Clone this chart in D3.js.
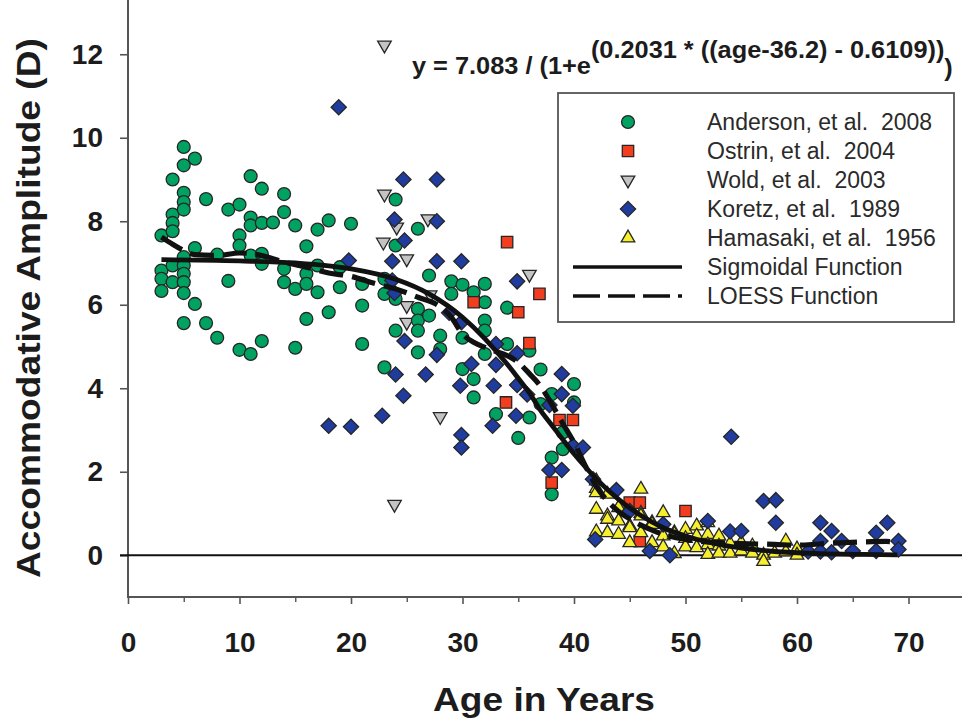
<!DOCTYPE html>
<html>
<head>
<meta charset="utf-8">
<script src="https://cdn.jsdelivr.net/npm/d3@7"></script>
<style>
  body { margin: 0; background: #fff; }
  svg { display: block; font-family: "Liberation Sans", Arial, Helvetica, sans-serif; }
</style>
</head>
<body>
<svg id="chart" width="962" height="720"></svg>
<script>
// [age, accommodative amplitude] per study
const anderson = [
  [3,7.66],[3,6.82],[3,6.62],[3,6.33],
  [4,9.0],[4,8.16],[4,7.96],[4,7.76],[4,6.94],[4,6.54],
  [5,9.78],[5,9.34],[5,8.68],[5,8.46],[5,8.28],[5,7.14],[5,6.94],[5,6.74],[5,6.54],[5,6.28],[5,5.56],
  [6,9.5],[6,7.36],[6,6.02],
  [7,8.53],[7,5.56],
  [8,7.2],[8,5.21],
  [9,8.28],[9,6.57],
  [10,8.4],[10,7.66],[10,7.42],[10,4.92],
  [11,9.08],[11,8.09],[11,7.9],[11,7.18],[11,4.82],
  [12,8.78],[12,7.96],[12,7.22],[12,6.98],[12,5.13],
  [13,7.97],
  [14,8.65],[14,8.22],[14,6.86],[14,6.54],
  [15,7.9],[15,6.38],[15,4.97],
  [16,7.4],[16,6.74],[16,6.5],[16,5.66],
  [17,7.8],[17,6.94],[17,6.3],
  [18,8.02],[18,5.82],
  [19,6.9],[19,6.42],
  [20,7.94],
  [21,6.5],[21,5.98],[21,5.06],
  [23,6.62],[23,6.26],[23,4.5],
  [24,8.52],[24,7.42],[24,6.14],[24,5.38],
  [26,7.82],[26,5.9],[26,5.62],[26,5.38],[26,4.86],
  [27,6.7],[27,5.74],
  [28,5.26],[28,4.94],
  [29,6.56],[29,6.26],
  [30,6.48],[30,5.21],[30,4.46],
  [31,6.3],[31,4.22],[31,3.78],
  [32,6.5],[32,6.06],[32,5.62],[32,5.38],[32,4.82],
  [33,3.38],
  [34,5.93],[34,5.06],
  [35,2.81],
  [36,4.9],[36,3.3],
  [37,4.45],[37,3.62],
  [38,3.86],[38,2.34],[38,1.46],
  [39,2.94],[39,2.54],
  [40,4.1],[40,3.66]
];

const ostrin = [
  [34.0,7.5],[36.9,6.26],[31.0,6.06],[35.0,5.82],[36.0,5.08],[33.9,3.66],
  [38.7,3.24],[39.9,3.24],[38.0,1.74],[45.0,1.26],[45.9,1.26],[50.0,1.06],[45.9,0.34]
];

const wold = [
  [23.0,12.22],[23.0,8.65],[26.9,8.06],[24.1,7.86],[22.9,7.5],[25.0,7.1],
  [36.0,6.73],[27.1,6.24],[25.0,5.98],[25.0,5.58],[28.0,3.32],[23.9,1.22]
];

const koretz = [
  [18.9,10.73],[24.7,9.0],[27.7,9.0],[23.9,8.04],[27.7,8.0],[24.8,7.54],
  [19.8,7.06],[23.7,7.04],[27.7,7.04],[29.9,7.04],[23.7,6.58],[23.9,6.28],
  [34.9,6.56],[28.8,5.81],[29.9,5.58],[33.0,5.06],[34.9,4.84],[24.8,5.13],
  [27.7,4.8],[30.8,4.58],[33.0,4.56],[24.0,4.33],[26.7,4.33],[29.8,4.06],
  [32.8,4.06],[34.9,4.08],[35.8,3.85],[24.7,3.82],[37.8,3.6],[22.8,3.34],
  [34.8,3.34],[32.7,3.1],[18.0,3.1],[20.0,3.08],[29.9,2.88],[29.9,2.58],
  [37.8,2.04],[38.9,4.34],[38.9,3.86],[39.9,3.58],[39.9,2.62],[40.8,2.58],
  [38.9,2.04],[41.7,1.82],[43.8,1.56],[45.0,1.06],[41.9,0.38],[46.8,0.1],
  [48.0,0.74],[48.6,0.0],[52.0,0.82],[54.0,0.57],[55.0,0.58],[54.1,2.84],
  [57.0,1.3],[58.1,1.32],[58.1,0.78],[61.0,0.09],[62.1,0.78],[62.1,0.34],
  [62.1,0.09],[63.1,0.58],[63.1,0.07],[64.0,0.34],[65.0,0.1],[67.1,0.54],
  [67.1,0.1],[68.1,0.78],[69.1,0.34],[69.1,0.14]
];

const hamasaki = [
  [42,1.78],[42,1.6],[42,1.5],[42,1.1],[42,0.56],
  [43,1.46],[43,0.94],[43,0.86],[43,0.54],
  [44,1.14],[44,0.82],[44,0.5],
  [45,0.7],[45,0.66],[45,0.3],
  [46,1.58],[46,1.0],[46,0.94],[46,0.54],
  [47,0.78],[47,0.74],[47,0.3],
  [48,1.02],[48,0.46],[48,0.2],
  [49,0.54],[49,0.5],[49,0.04],
  [50,0.62],[50,0.4],[50,0.2],
  [51,0.7],[51,0.46],[51,0.18],
  [52,0.78],[52,0.5],[52,0.25],[52,0.02],
  [53,0.46],[53,0.22],[53,0.05],
  [54,0.28],[54,0.05],
  [55,0.3],[55,0.1],
  [56,0.22],[56,0.05],
  [57,0.0],[57,-0.15],
  [58,0.05],
  [59,0.34],[59,0.08],
  [60,0.15],[60,0.0]
];

// fitted curves as drawn
const sigmoidAge = [3,10,15,20,24,27,30,32,34,35,36,37,38,39,40,41,42,44,46,48,50,54,58,62,66,69];
const sigmoidAmp = [7.08,7.05,7.0,6.86,6.61,6.26,5.7,5.19,4.58,4.24,3.89,3.47,3.12,2.77,2.43,2.12,1.83,1.34,0.95,0.66,0.46,0.21,0.09,0.04,0.02,0.01];
const loessAge = [3,4,5,6,8,10,12,14,16,18,20,22,24,26,28,29,30,31,32,33,34,35,36,37,38,39,40,41,42,43,44,45,46,47,48,50,52,55,58,60,62,64,66,68,69];
const loessAmp = [7.62,7.45,7.3,7.2,7.18,7.24,7.18,7.02,6.9,6.76,6.68,6.52,6.38,6.18,5.95,5.7,5.3,5.1,4.98,4.88,4.78,4.62,4.35,4.05,3.62,3.15,2.7,2.15,1.65,1.3,1.05,0.87,0.72,0.6,0.5,0.38,0.32,0.28,0.26,0.24,0.27,0.3,0.32,0.33,0.3];

const xTicks = [0, 10, 20, 30, 40, 50, 60, 70];
const xMinorTicks = [5, 15, 25, 35, 45, 55, 65, 75];
const yTicks = [0, 2, 4, 6, 8, 10, 12];

const legendLabels = [
  "Anderson, et al.  2008",
  "Ostrin, et al.  2004",
  "Wold, et al.  2003",
  "Koretz, et al.  1989",
  "Hamasaki, et al.  1956",
  "Sigmoidal Function",
  "LOESS Function"
];

const svg = d3.select("#chart");
const x = d3.scaleLinear().domain([0, 75]).range([128, 964.25]);
const y = d3.scaleLinear().domain([-1, 13]).range([597, 12.5]);

const axisColor = "#555";
const textColor = "#1c1c1c";

// x axis
const xAxis = svg.append("g")
  .attr("transform", `translate(0,${y(-1)})`)
  .call(d3.axisBottom(x).tickValues(xTicks).tickSize(7).tickFormat(d3.format("d")));
xAxis.select(".domain").remove();
xAxis.selectAll("line").attr("stroke", axisColor).attr("stroke-width", 1.6);
xAxis.selectAll("text")
  .attr("y", 55).attr("dy", null)
  .attr("font-size", 28).attr("font-weight", "bold").attr("fill", textColor);

const xMinor = svg.append("g")
  .attr("transform", `translate(0,${y(-1)})`)
  .call(d3.axisBottom(x).tickValues(xMinorTicks).tickSize(5).tickFormat(""));
xMinor.select(".domain").remove();
xMinor.selectAll("line").attr("stroke", axisColor).attr("stroke-width", 1.4);

svg.append("line")
  .attr("x1", 127).attr("x2", 962)
  .attr("y1", y(-1)).attr("y2", y(-1))
  .attr("stroke", axisColor).attr("stroke-width", 2);

// y axis
const yAxis = svg.append("g")
  .attr("transform", "translate(128,0)")
  .call(d3.axisLeft(y).tickValues(yTicks).tickSize(8));
yAxis.select(".domain").remove();
yAxis.selectAll("line").attr("stroke", axisColor).attr("stroke-width", 1.6);
yAxis.selectAll("text")
  .attr("x", -25)
  .attr("font-size", 28).attr("font-weight", "bold").attr("fill", textColor);

svg.append("line")
  .attr("x1", 128).attr("x2", 128)
  .attr("y1", 0).attr("y2", y(-1) + 1)
  .attr("stroke", axisColor).attr("stroke-width", 2);

// zero reference line
svg.append("line")
  .attr("x1", 120).attr("x2", 962)
  .attr("y1", y(0)).attr("y2", y(0))
  .attr("stroke", "#111").attr("stroke-width", 2);

// axis titles
svg.append("text")
  .attr("x", 544).attr("y", 711)
  .attr("text-anchor", "middle")
  .attr("font-size", 34).attr("font-weight", "bold").attr("fill", textColor)
  .attr("textLength", 222).attr("lengthAdjust", "spacingAndGlyphs")
  .text("Age in Years");

svg.append("text")
  .attr("transform", "translate(40,308) rotate(-90)")
  .attr("text-anchor", "middle")
  .attr("font-size", 34).attr("font-weight", "bold").attr("fill", textColor)
  .attr("textLength", 540).attr("lengthAdjust", "spacingAndGlyphs")
  .text("Accommodative Amplitude (D)");

// markers
const shapes = {
  circle: d3.symbol().type(d3.symbolCircle).size(130)(),
  square: d3.symbol().type(d3.symbolSquare).size(130)(),
  diamond: d3.symbol().type(d3.symbolSquare).size(116)(),
  triangle: d3.symbol().type(d3.symbolTriangle).size(80)()
};

const series = [
  { data: wold, shape: "triangle", rot: 180, fill: "#c4c4c4" },
  { data: anderson, shape: "circle", rot: 0, fill: "#00a262" },
  { data: ostrin, shape: "square", rot: 0, fill: "#f23d1f" },
  { data: hamasaki, shape: "triangle", rot: 0, fill: "#f6ef2e" },
  { data: koretz, shape: "diamond", rot: 45, fill: "#1f3c9e" }
];

series.forEach((s) => {
  svg.append("g")
    .selectAll("path")
    .data(s.data)
    .join("path")
    .attr("d", shapes[s.shape])
    .attr("transform", (d) => `translate(${x(d[0])},${y(d[1])}) rotate(${s.rot})`)
    .attr("fill", s.fill)
    .attr("stroke", "#262626")
    .attr("stroke-width", 1.3);
});

// curves
const line = d3.line()
  .x((d) => x(d[0]))
  .y((d) => y(d[1]))
  .curve(d3.curveMonotoneX);

svg.append("path")
  .attr("d", line(sigmoidAge.map((a, i) => [a, sigmoidAmp[i]])))
  .attr("fill", "none").attr("stroke", "#111").attr("stroke-width", 4.8);

svg.append("path")
  .attr("d", line(loessAge.map((a, i) => [a, loessAmp[i]])))
  .attr("fill", "none").attr("stroke", "#111").attr("stroke-width", 5.2)
  .attr("stroke-dasharray", "24,9");

// equation
const eq = svg.append("text")
  .attr("x", 412).attr("y", 74)
  .attr("font-size", 24).attr("font-weight", "bold").attr("fill", textColor);
eq.append("tspan").text("y = 7.083 / (1+e");
eq.append("tspan").attr("dy", -16).text("(0.2031 * ((age-36.2) - 0.6109))");
eq.append("tspan").attr("dy", 18).text(")");
const eqW = eq.node().getBBox().width;
const eqS = (953 - 412) / eqW;
eq.attr("transform", `translate(412,0) scale(${eqS},1) translate(-412,0)`);

// legend
const legend = svg.append("g");
legend.append("rect")
  .attr("x", 558).attr("y", 93)
  .attr("width", 396).attr("height", 229)
  .attr("fill", "#fff").attr("stroke", "#555").attr("stroke-width", 1.8);

const rowY = (i) => 122 + i * 29;
const legendSeries = [series[1], series[2], series[0], series[4], series[3]];

legendSeries.forEach((s, i) => {
  legend.append("path")
    .attr("d", shapes[s.shape])
    .attr("transform", `translate(628,${rowY(i)}) rotate(${s.rot})`)
    .attr("fill", s.fill).attr("stroke", "#262626").attr("stroke-width", 1.3);
});

legend.append("line")
  .attr("x1", 573).attr("x2", 682)
  .attr("y1", rowY(5)).attr("y2", rowY(5))
  .attr("stroke", "#111").attr("stroke-width", 3.5);

legend.append("line")
  .attr("x1", 573).attr("x2", 682)
  .attr("y1", rowY(6)).attr("y2", rowY(6))
  .attr("stroke", "#111").attr("stroke-width", 3.5)
  .attr("stroke-dasharray", "27,8");

legend.selectAll("text.label")
  .data(legendLabels)
  .join("text")
  .attr("class", "label")
  .attr("x", 707)
  .attr("y", (d, i) => rowY(i) + 8)
  .attr("font-size", 23)
  .attr("fill", "#2a2a2a")
  .style("white-space", "pre")
  .text((d) => d);
</script>
</body>
</html>
